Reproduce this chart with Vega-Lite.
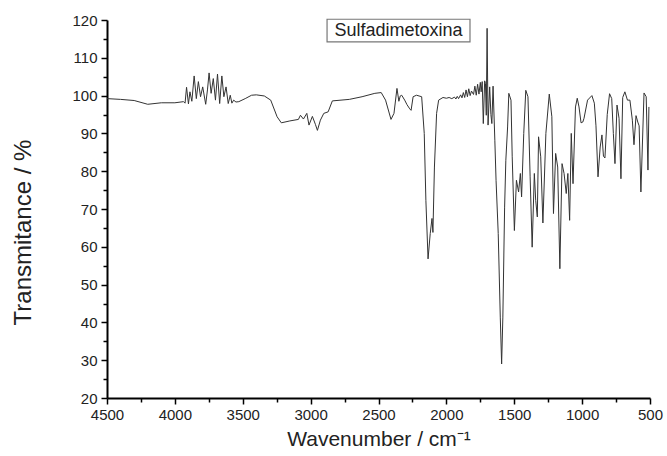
{
  "$schema": "https://vega.github.io/schema/vega-lite/v6.json",
  "width": 543,
  "height": 378,
  "autosize": "none",
  "padding": {"left": 107, "top": 20, "right": 17, "bottom": 58},
  "background": "white",
  "config": {"view": {"stroke": null}, "font": "Liberation Sans"},
  "resolve": {"axis": {"x": "independent", "y": "independent"}},
  "datasets": {
    "spectrum": [
      {"wn": 4500, "T": 99.2}, {"wn": 4400, "T": 99.0}, {"wn": 4300, "T": 98.7}, {"wn": 4200, "T": 97.7},
      {"wn": 4100, "T": 98.1}, {"wn": 4000, "T": 98.1}, {"wn": 3936, "T": 98.4}, {"wn": 3925, "T": 98.0},
      {"wn": 3914, "T": 102.2}, {"wn": 3900, "T": 97.8}, {"wn": 3889, "T": 101.0}, {"wn": 3875, "T": 98.5},
      {"wn": 3858, "T": 105.2}, {"wn": 3842, "T": 99.2}, {"wn": 3827, "T": 103.7}, {"wn": 3811, "T": 99.7},
      {"wn": 3795, "T": 102.3}, {"wn": 3773, "T": 97.7}, {"wn": 3760, "T": 101.5}, {"wn": 3748, "T": 106.0},
      {"wn": 3733, "T": 100.6}, {"wn": 3717, "T": 104.5}, {"wn": 3701, "T": 98.8}, {"wn": 3686, "T": 105.7},
      {"wn": 3670, "T": 97.9}, {"wn": 3654, "T": 105.2}, {"wn": 3639, "T": 99.7}, {"wn": 3623, "T": 102.3},
      {"wn": 3607, "T": 97.9}, {"wn": 3592, "T": 100.1}, {"wn": 3580, "T": 98.0}, {"wn": 3567, "T": 98.8},
      {"wn": 3550, "T": 98.3}, {"wn": 3529, "T": 98.4}, {"wn": 3482, "T": 99.2}, {"wn": 3435, "T": 100.1},
      {"wn": 3400, "T": 100.2}, {"wn": 3341, "T": 99.9}, {"wn": 3294, "T": 98.8}, {"wn": 3247, "T": 94.4},
      {"wn": 3216, "T": 92.8}, {"wn": 3153, "T": 93.3}, {"wn": 3090, "T": 93.7}, {"wn": 3075, "T": 94.8},
      {"wn": 3053, "T": 93.8}, {"wn": 3028, "T": 95.3}, {"wn": 3012, "T": 92.2}, {"wn": 2987, "T": 94.5},
      {"wn": 2965, "T": 92.4}, {"wn": 2950, "T": 90.8}, {"wn": 2928, "T": 93.5}, {"wn": 2903, "T": 95.3},
      {"wn": 2871, "T": 95.7}, {"wn": 2840, "T": 98.6}, {"wn": 2715, "T": 99.0}, {"wn": 2621, "T": 99.7},
      {"wn": 2527, "T": 100.6}, {"wn": 2480, "T": 100.8}, {"wn": 2448, "T": 98.8}, {"wn": 2408, "T": 93.7},
      {"wn": 2386, "T": 95.3}, {"wn": 2364, "T": 101.9}, {"wn": 2350, "T": 98.5}, {"wn": 2340, "T": 99.9},
      {"wn": 2329, "T": 100.1}, {"wn": 2307, "T": 98.8}, {"wn": 2290, "T": 97.6}, {"wn": 2270, "T": 96.5},
      {"wn": 2260, "T": 96.1}, {"wn": 2245, "T": 99.7}, {"wn": 2220, "T": 100.1}, {"wn": 2182, "T": 99.7},
      {"wn": 2163, "T": 90.0}, {"wn": 2151, "T": 72.3}, {"wn": 2135, "T": 56.8}, {"wn": 2119, "T": 63.5},
      {"wn": 2106, "T": 67.5}, {"wn": 2099, "T": 63.8}, {"wn": 2088, "T": 81.1}, {"wn": 2072, "T": 95.3},
      {"wn": 2057, "T": 98.8}, {"wn": 2025, "T": 99.5}, {"wn": 2000, "T": 99.3}, {"wn": 1980, "T": 99.5},
      {"wn": 1960, "T": 99.2}, {"wn": 1940, "T": 99.6}, {"wn": 1930, "T": 99.1}, {"wn": 1920, "T": 99.8},
      {"wn": 1910, "T": 99.2}, {"wn": 1895, "T": 100.2}, {"wn": 1885, "T": 99.4}, {"wn": 1875, "T": 100.8},
      {"wn": 1865, "T": 99.5}, {"wn": 1855, "T": 101.5}, {"wn": 1845, "T": 99.7}, {"wn": 1835, "T": 101.8},
      {"wn": 1825, "T": 100.0}, {"wn": 1815, "T": 101.2}, {"wn": 1800, "T": 100.3}, {"wn": 1790, "T": 102.5},
      {"wn": 1780, "T": 100.1}, {"wn": 1770, "T": 103.0}, {"wn": 1760, "T": 100.4}, {"wn": 1750, "T": 103.5},
      {"wn": 1744, "T": 101.0}, {"wn": 1736, "T": 103.7}, {"wn": 1728, "T": 92.6}, {"wn": 1718, "T": 103.9},
      {"wn": 1712, "T": 103.2}, {"wn": 1706, "T": 94.8}, {"wn": 1700, "T": 117.8}, {"wn": 1693, "T": 92.2},
      {"wn": 1681, "T": 102.3}, {"wn": 1672, "T": 95.0}, {"wn": 1665, "T": 92.6}, {"wn": 1656, "T": 102.5},
      {"wn": 1643, "T": 88.2}, {"wn": 1634, "T": 77.6}, {"wn": 1618, "T": 63.5}, {"wn": 1603, "T": 41.4},
      {"wn": 1593, "T": 29.0}, {"wn": 1584, "T": 41.4}, {"wn": 1571, "T": 70.5}, {"wn": 1562, "T": 82.9},
      {"wn": 1549, "T": 91.7}, {"wn": 1540, "T": 100.6}, {"wn": 1524, "T": 98.8}, {"wn": 1515, "T": 83.8},
      {"wn": 1499, "T": 64.3}, {"wn": 1484, "T": 77.6}, {"wn": 1468, "T": 74.5}, {"wn": 1455, "T": 79.4},
      {"wn": 1446, "T": 73.2}, {"wn": 1430, "T": 90.0}, {"wn": 1415, "T": 101.4}, {"wn": 1399, "T": 99.7},
      {"wn": 1383, "T": 78.5}, {"wn": 1368, "T": 59.9}, {"wn": 1352, "T": 79.4}, {"wn": 1342, "T": 72.3},
      {"wn": 1330, "T": 67.9}, {"wn": 1321, "T": 89.1}, {"wn": 1305, "T": 83.8}, {"wn": 1289, "T": 66.3},
      {"wn": 1267, "T": 90.0}, {"wn": 1242, "T": 100.4}, {"wn": 1223, "T": 94.4}, {"wn": 1211, "T": 68.8},
      {"wn": 1195, "T": 84.7}, {"wn": 1180, "T": 81.1}, {"wn": 1164, "T": 54.2}, {"wn": 1148, "T": 82.0},
      {"wn": 1133, "T": 79.4}, {"wn": 1117, "T": 74.1}, {"wn": 1105, "T": 79.4}, {"wn": 1092, "T": 67.0},
      {"wn": 1080, "T": 90.0}, {"wn": 1067, "T": 76.7}, {"wn": 1049, "T": 97.0}, {"wn": 1036, "T": 99.3},
      {"wn": 1023, "T": 97.0}, {"wn": 1008, "T": 92.8}, {"wn": 995, "T": 93.0}, {"wn": 986, "T": 94.0},
      {"wn": 960, "T": 98.8}, {"wn": 928, "T": 100.0}, {"wn": 910, "T": 98.0}, {"wn": 898, "T": 92.0},
      {"wn": 883, "T": 78.5}, {"wn": 867, "T": 86.4}, {"wn": 854, "T": 89.6}, {"wn": 843, "T": 84.0},
      {"wn": 832, "T": 83.5}, {"wn": 815, "T": 95.0}, {"wn": 798, "T": 100.5}, {"wn": 782, "T": 99.2},
      {"wn": 770, "T": 90.0}, {"wn": 758, "T": 82.0}, {"wn": 743, "T": 97.5}, {"wn": 728, "T": 94.0},
      {"wn": 714, "T": 78.0}, {"wn": 701, "T": 99.5}, {"wn": 685, "T": 101.0}, {"wn": 666, "T": 98.8},
      {"wn": 648, "T": 98.8}, {"wn": 630, "T": 93.5}, {"wn": 618, "T": 87.0}, {"wn": 603, "T": 94.7},
      {"wn": 590, "T": 93.0}, {"wn": 580, "T": 92.0}, {"wn": 567, "T": 74.5}, {"wn": 544, "T": 100.7},
      {"wn": 528, "T": 99.7}, {"wn": 515, "T": 80.3}, {"wn": 508, "T": 97.0}
    ],
    "label": [
      {"x1": 2879, "x2": 1826, "y1": 120.2, "y2": 114.2, "xc": 2352, "yc": 117.2, "name": "Sulfadimetoxina"}
    ]
  },
  "layer": [
    {
      "data": {"name": "spectrum"},
      "mark": {"type": "line", "color": "#333333", "strokeWidth": 1, "interpolate": "linear"},
      "encoding": {
        "x": {
          "field": "wn", "type": "quantitative",
          "scale": {"domain": [500, 4500], "reverse": true, "nice": false, "zero": false},
          "axis": {
            "orient": "bottom",
            "title": "Wavenumber / cm⁻¹",
            "values": [4500, 4000, 3500, 3000, 2500, 2000, 1500, 1000, 500],
            "format": "d",
            "grid": false,
            "domainColor": "#000", "domainWidth": 2,
            "tickColor": "#000", "tickWidth": 1.5, "tickSize": 6,
            "labelFont": "Liberation Sans", "labelFontSize": 15, "labelColor": "#222", "labelPadding": 3,
            "labelFlush": false, "labelOverlap": false,
            "titleFont": "Liberation Sans", "titleFontSize": 21, "titleFontWeight": "normal", "titleColor": "#222",
            "titlePadding": 6
          }
        },
        "y": {
          "field": "T", "type": "quantitative",
          "scale": {"domain": [20, 120], "nice": false, "zero": false},
          "axis": {
            "orient": "left",
            "title": "Transmitance / %",
            "values": [20, 30, 40, 50, 60, 70, 80, 90, 100, 110, 120],
            "format": "d",
            "grid": false,
            "domainColor": "#000", "domainWidth": 2,
            "tickColor": "#000", "tickWidth": 1.5, "tickSize": 6,
            "labelFont": "Liberation Sans", "labelFontSize": 15, "labelColor": "#222", "labelPadding": 4,
            "labelFlush": false, "labelOverlap": false,
            "titleFont": "Liberation Sans", "titleFontSize": 24, "titleFontWeight": "normal", "titleColor": "#222",
            "titlePadding": 36, "titleY": 212
          }
        }
      }
    },
    {
      "data": {"name": "label"},
      "mark": {"type": "rect", "fill": "white", "stroke": "#777", "strokeWidth": 1.2},
      "encoding": {
        "x": {
          "field": "x1", "type": "quantitative",
          "axis": {
            "orient": "bottom", "title": null, "labels": false, "domain": false, "grid": false,
            "values": [4250, 3750, 3250, 2750, 2250, 1750, 1250, 750],
            "tickColor": "#000", "tickWidth": 1.5, "tickSize": 4
          }
        },
        "x2": {"field": "x2"},
        "y": {
          "field": "y1", "type": "quantitative",
          "axis": {
            "orient": "left", "title": null, "labels": false, "domain": false, "grid": false,
            "values": [25, 35, 45, 55, 65, 75, 85, 95, 105, 115],
            "tickColor": "#000", "tickWidth": 1.5, "tickSize": 4
          }
        },
        "y2": {"field": "y2"}
      }
    },
    {
      "data": {"name": "label"},
      "mark": {"type": "text", "font": "Liberation Sans", "fontSize": 18, "color": "#222", "align": "center", "baseline": "middle"},
      "encoding": {
        "x": {"field": "xc", "type": "quantitative", "axis": null},
        "y": {"field": "yc", "type": "quantitative", "axis": null},
        "text": {"field": "name"}
      }
    }
  ]
}
